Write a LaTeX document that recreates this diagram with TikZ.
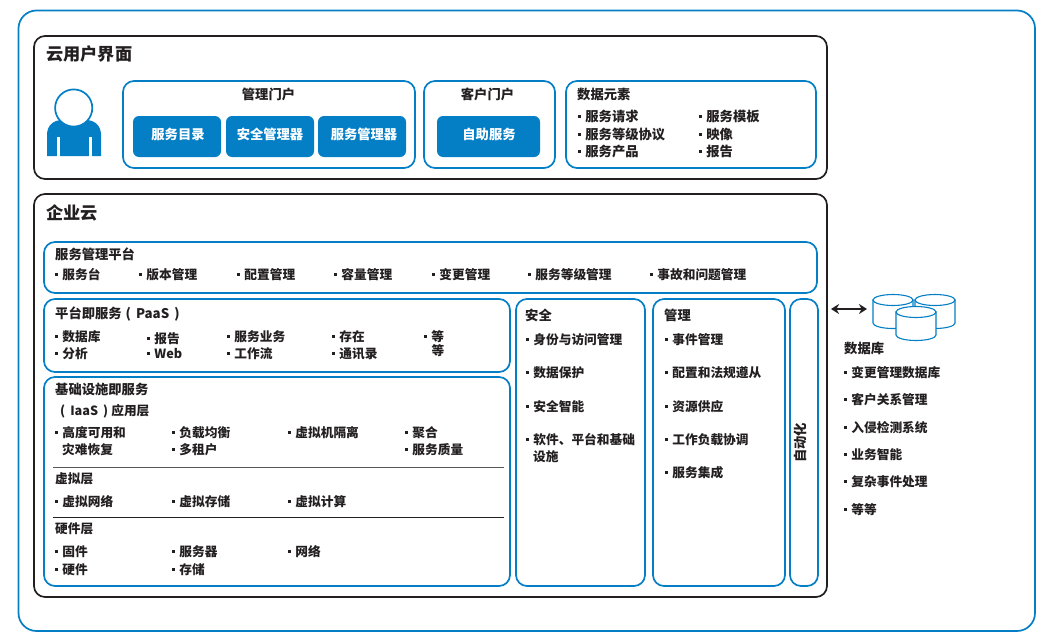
\documentclass[tikz,border=0pt]{standalone}
\usepackage{fontspec}
\setmainfont{Noto Sans CJK SC}
\usepackage{tikz}
\usetikzlibrary{arrows.meta}
\definecolor{ibmblue}{RGB}{4,127,198}
\definecolor{inkblack}{RGB}{35,31,32}
\newcommand{\bul}{\rule[3.8pt]{2.6pt}{2.6pt}\hspace{4.6pt}}
\tikzset{
	every node/.style={font=\bfseries\fontsize{13.3}{14}\selectfont, text=inkblack, inner sep=0pt, text height=12pt, text depth=1pt},
	blubox/.style={draw=ibmblue, line width=1.7pt, rounded corners=11pt},
	blkbox/.style={draw=inkblack, line width=1.7pt, rounded corners=11pt},
	card/.style={fill=ibmblue, rounded corners=6pt},
	head/.style={anchor=west},
	item/.style={anchor=west, font=\bfseries\fontsize{12.7}{14}\selectfont},
	big/.style={anchor=west, font=\bfseries\fontsize{17.2}{18}\selectfont},
	db/.style={draw=ibmblue, fill=white, line width=1.1pt},
}
\begin{document}
\begin{tikzpicture}[x=1pt,y=-1pt]
\useasboundingbox (0,0) rectangle (1049,637);
\draw[blubox, rounded corners=18pt] (18.5,10.5) rectangle (1035,631);
\draw[blkbox] (34,36) rectangle (827,179);
\draw[blkbox] (34,194) rectangle (827,597);
\node[big] (tcloud) at (46,55) {云用户界面};
\node[big] (tent) at (46,214) {企业云};
\foreach \xa/\ya/\xb/\yb in {123/81/415/168, 424/81/555/168, 566/81/816/168, 44/242/817/293, 44/299/510/372, 44/377/510/586, 516/299/645/586, 653/299/785/586, 790/299/818/586}{
\draw[blubox] (\xa,\ya) rectangle (\xb,\yb);
}
\draw[inkblack!75!white, line width=.8pt] (53,467) -- (504,467);
\draw[inkblack, line width=.8pt] (53,517) -- (504,517);
\fill[ibmblue] (47,156) -- (47,135) .. controls (47,125) and (54,120) .. (62,120) -- (86,120) .. controls (94,120) and (101,125) .. (101,135) -- (101,156) -- cycle;
\draw[white, line width=3pt] (58.5,137) -- (58.5,157);
\draw[white, line width=3pt] (90.5,137) -- (90.5,157);
\draw[ibmblue, fill=white, line width=1.7pt] (73.7,108) circle[radius=18.6pt];
\foreach \xa/\xb/\xm/\t [count=\n] in {133/221/178/服务目录, 226/314/270/安全管理器, 318/406/364/服务管理器, 437/540/489/自助服务}{
\fill[card] (\xa,116) rectangle (\xb,157);
\node[text=white] (card\n) at (\xm,134) {\t};
}
\node (pmgr) at (268.5,94) {管理门户};
\node (pcust) at (487.5,94) {客户门户};
\foreach \x/\y/\t [count=\n] in {577/94/数据元素, 55/254/服务管理平台, 55/313/{平台即服务\hspace{4pt}(\hspace{5pt}PaaS\hspace{5pt})}, 55/389/基础设施即服务, 525/315/安全, 664/315/管理, 844/348/数据库}{
\node[head] (head\n) at (\x,\y) {\t};
}
\foreach \x/\y/\t [count=\n] in {578/116/服务请求, 578/134/服务等级协议, 578/151/服务产品, 699/116/服务模板, 699/134/映像, 699/151/报告}{
\node[head] (data\n) at (\x,\y) {\bul\t};
}
\foreach \x/\y/\t [count=\n] in {55/274/服务台, 139/274/版本管理, 237/274/配置管理, 334/274/容量管理, 432/274/变更管理, 528/274/服务等级管理, 650/274/事故和问题管理,
55/336/数据库, 55/353/分析, 147/338/报告, 147/353/Web, 227/336/服务业务, 227/353/工作流, 332/336/存在, 332/353/通讯录, 424/336/等,
55/432/高度可用和, 172/432/负载均衡, 172/449/多租户, 288/432/虚拟机隔离, 405/432/聚合, 405/449/服务质量,
55/501/虚拟网络, 172/501/虚拟存储, 288/501/虚拟计算,
55/551/固件, 55/569/硬件, 172/551/服务器, 172/569/存储, 288/551/网络,
526/339/身份与访问管理, 526/372/数据保护, 526/406/安全智能, 526/439/软件、平台和基础,
665/339/事件管理, 665/372/配置和法规遵从, 665/406/资源供应, 665/439/工作负载协调, 665/472/服务集成,
844/372/变更管理数据库, 844/399/客户关系管理, 844/427/入侵检测系统, 844/454/业务智能, 844/481/复杂事件处理, 844/509/等等}{
\node[item] (item\n) at (\x,\y) {\bul\t};
}
\foreach \x/\y/\t [count=\n] in {62/449/灾难恢复, 533/456/设施, 431.5/350/等, 55/478/虚拟层, 55/528/硬件层, 60/410/{(\hspace{5pt}IaaS\hspace{5pt})\hspace{3pt}应用层}}{
\node[item] (plain\n) at (\x,\y) {\t};
}
\node[rotate=90] (auto) at (800,443) {自动化};
\coordinate (arrl) at (831,309);
\coordinate (arrr) at (867,309);
\draw[inkblack, line width=1.8pt, {Stealth[length=8pt,width=10pt]}-{Stealth[length=8pt,width=10pt]}] (arrl) -- (arrr);
\foreach \x/\y in {893/300, 935/300, 916/312}{
\path[db] (\x-20,\y) -- (\x-20,\y+23) arc[start angle=180, end angle=360, x radius=20pt, y radius=5.5pt] -- (\x+20,\y) -- cycle;
\path[db] (\x,\y) ellipse[x radius=20pt, y radius=5.5pt];
}
\end{tikzpicture}
\end{document}
